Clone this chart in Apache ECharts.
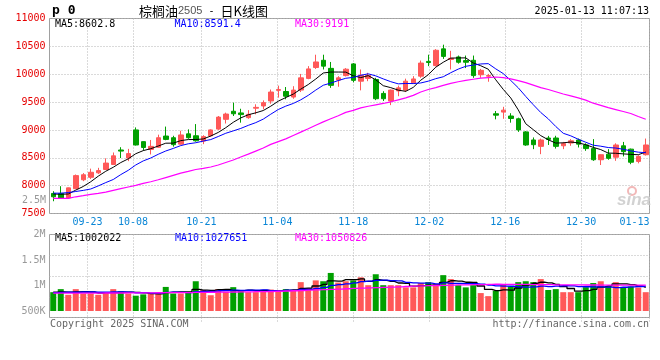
<!DOCTYPE html>
<html><head><meta charset="utf-8">
<script src="https://cdn.jsdelivr.net/npm/echarts@6/dist/echarts.min.js"></script>
<style>html,body{margin:0;padding:0;background:#fff}#c{width:660px;height:360px}</style>
</head><body><div id="c"></div>
<script>
// ---- data ----
const dates = ['09-12','09-13','09-18','09-19','09-20','09-23','09-24','09-25','09-26','09-27',
'09-30','10-08','10-09','10-10','10-11','10-14','10-15','10-16','10-17','10-18',
'10-21','10-22','10-23','10-24','10-25','10-28','10-29','10-30','10-31','11-01',
'11-04','11-05','11-06','11-07','11-08','11-11','11-12','11-13','11-14','11-15',
'11-18','11-19','11-20','11-21','11-22','11-25','11-26','11-27','11-28','11-29',
'12-02','12-03','12-04','12-05','12-06','12-09','12-10','12-11','12-12','12-13',
'12-16','12-17','12-18','12-19','12-20','12-23','12-24','12-25','12-26','12-27',
'12-30','12-31','01-02','01-03','01-06','01-07','01-08','01-09','01-10','01-13'];
const xTickDates = ['09-23','10-08','10-21','11-04','11-18','12-02','12-16','12-30','01-13'];

const open = [7860,7860,7780,7945,8105,8150,8230,8290,8380,8640, 8495,9000,8790,8650,8690,8890,8860,8745,8930,8895,
8800,8895,9015,9190,9335,9305,9220,9390,9430,9520, 9710,9690,9590,9715,9925,10120,10250,10105,9895,9975,
10185,9875,9925,9905,9655,9520,9700,9715,9845,9965, 10230,10155,10455,10265,10310,10245,10250,9990,9965,9290,
9320,9250,9200,8965,8820,8705,8855,8855,8715,8765, 8820,8730,8665,8465,8565,8510,8715,8655,8435,8555];
const close = [7800,7770,7960,8180,8195,8240,8270,8405,8535,8620, 8575,8730,8685,8705,8860,8830,8735,8910,8860,8805,
8880,9000,9230,9285,9290,9275,9280,9405,9490,9680, 9725,9605,9715,9935,10095,10220,10145,9800,9935,10090,
9890,9980,9980,9560,9560,9715,9755,9875,9915,10200, 10210,10430,10320,10285,10215,10215,9975,10070,9975,9265,
9355,9205,9000,8730,8735,8820,8830,8705,8755,8805, 8745,8665,8465,8555,8490,8730,8610,8420,8525,8730];
const low = [7720,7760,7765,7940,8080,8120,8210,8280,8375,8495, 8440,8720,8630,8560,8680,8815,8700,8735,8840,8790,
8745,8880,9000,9115,9250,9130,9200,9280,9370,9470, 9580,9550,9560,9680,9910,10095,10085,9755,9775,9960,
9855,9710,9875,9535,9520,9445,9605,9680,9830,9935, 10145,10140,10275,10085,10190,10110,9935,9935,9865,9190,
9200,9130,8965,8715,8655,8565,8730,8665,8655,8715, 8685,8625,8445,8370,8465,8445,8525,8385,8400,8540];
const high = [7900,7990,7965,8200,8225,8305,8320,8490,8595,8690, 8660,9045,8795,8820,8915,9060,8895,8985,9010,9105,
8905,9010,9250,9310,9490,9380,9355,9460,9530,9725, 9795,9770,9785,10005,10145,10350,10350,10220,9965,10110,
10200,10085,10025,9935,9695,9725,9795,9920,9965,10245, 10350,10450,10530,10420,10335,10335,10335,10095,10005,9340,
9415,9300,9220,8980,8865,8845,8893,8895,8785,8835, 8845,8760,8835,8560,8655,8760,8785,8665,8545,8845];

const ma5 = [7850,7845,7850,7920,7985,8070,8170,8258,8330,8414, 8481,8573,8629,8663,8711,8762,8763,8808,8827,8828,
8838,8891,8955,9040,9137,9216,9272,9307,9348,9426, 9516,9581,9643,9732,9815,9914,10022,10039,10039,10038,
9972,9939,9975,9900,9794,9759,9714,9693,9764,9892, 9991,10126,10215,10289,10292,10293,10202,10152,10090,9900,
9728,9574,9360,9111,9005,8898,8823,8764,8769,8783, 8768,8735,8687,8647,8584,8581,8570,8561,8555,8603];
const ma10 = [7865,7865,7875,7895,7915,7940,7995,8055,8110,8198, 8275,8371,8444,8496,8563,8622,8668,8719,8751,8770,
8800,8827,8882,8940,8983,9027,9082,9131,9194,9282, 9366,9427,9475,9540,9621,9715,9802,9841,9886,9927,
9943,9981,10007,9970,9916,9866,9827,9834,9832,9843, 9875,9920,9954,10027,10092,10142,10164,10184,10190,10096,
10011,9888,9756,9601,9453,9313,9199,9062,8940,8894, 8833,8779,8726,8708,8684,8675,8653,8624,8601,8591];
const ma30 = [7770,7770,7772,7800,7820,7842,7862,7885,7915,7945, 7975,8005,8040,8070,8105,8145,8185,8225,8255,8290,
8310,8335,8370,8415,8460,8515,8565,8620,8675,8740, 8790,8840,8900,8960,9020,9085,9145,9200,9255,9315,
9350,9395,9425,9450,9475,9505,9540,9575,9620,9680, 9725,9760,9800,9835,9865,9890,9910,9930,9940,9950,
9940,9915,9885,9850,9805,9760,9725,9685,9645,9610, 9575,9535,9480,9440,9400,9365,9330,9295,9240,9191];

// volume, in thousands of lots
const volume = [901,966,845,966,873,873,845,901,966,919, 873,826,854,882,882,1013,873,873,901,1134,
947,836,966,910,1008,947,901,901,947,957, 929,966,943,1115,989,1152,1134,1311,1106,1134,
1152,1218,1050,1283,1050,1050,1050,1003,1003,1096, 1115,1069,1264,1180,1050,1003,1050,882,817,929,
1069,1022,1115,1134,1115,1180,947,966,901,901, 901,1008,1096,1134,1031,1115,1010,1020,1000,901];
const volMa5 = [900,905,900,905,910,905,880,892,892,901, 901,897,888,871,863,891,901,905,908,959,
946,938,957,959,933,933,946,933,941,931, 927,940,948,982,988,1033,1067,1140,1138,1167,
1167,1184,1132,1167,1151,1130,1097,1087,1031,1040, 1053,1057,1109,1145,1136,1113,1109,1033,960,936,
949,944,990,1054,1091,1113,1098,1068,1022,979, 923,935,961,1008,1034,1077,1077,1062,1035,1002];
const volMa10 = [890,895,900,900,905,905,900,900,905,906, 903,889,890,881,882,896,899,896,890,911,
919,920,931,934,946,940,942,945,950,932, 930,943,941,961,960,980,1003,1044,1060,1078,
1100,1125,1136,1153,1159,1149,1140,1110,1099,1096, 1092,1077,1098,1088,1088,1083,1083,1071,1053,1036,
1031,1027,1012,1007,1014,1031,1021,1029,1038,1035, 1018,1017,1015,1015,1007,1000,1006,1012,1022,1028];
const volMa30 = [880,880,880,881,881,882,882,883,883,884, 885,886,887,888,889,890,891,892,893,895,
897,899,901,903,905,907,909,911,913,916, 921,926,931,937,943,949,955,961,967,974,
980,986,992,998,1004,1010,1016,1022,1028,1035, 1039,1043,1047,1051,1055,1058,1061,1064,1067,1070,
1069,1068,1067,1066,1064,1062,1060,1058,1056,1055, 1055,1054,1054,1053,1053,1052,1052,1052,1051,1051];

const priceMin = 7500, priceMax = 11000, priceStep = 500;
const volLabelMin = 500, volLabelMax = 2000, volLabelStep = 500;
const volBarMin = 500, volBarMax = 2130;

// ---- styles ----
const MONO = '"DejaVu Sans Mono","Liberation Mono",monospace';
const RED = '#ff5858', GREEN = '#00a000';
const GRIDC = '#b4b4b4', BORDER = '#a0a0a0';
const dotted = {color: GRIDC, type: [1, 2], width: 1};
const isTick = (i, v) => xTickDates.indexOf(v) >= 0;

const chart = echarts.init(document.getElementById('c'), null, {width: 660, height: 360});
const hidden = {show: false};
const gridL = 49.5, gridW = 600;

chart.setOption({
  animation: false,
  backgroundColor: '#fff',
  grid: [
    {left: gridL, top: 18.5, width: gridW, height: 195, show: true, borderColor: BORDER, borderWidth: 1},
    {left: gridL, top: 234.5, width: gridW, height: 83, show: true, borderColor: BORDER, borderWidth: 1},
    {left: gridL, top: 234.5, width: gridW, height: 76.5}
  ],
  xAxis: [
    {gridIndex: 0, type: 'category', data: dates, boundaryGap: true, position: 'top',
     axisLine: hidden, axisTick: hidden, axisLabel: hidden, splitLine: hidden},
    {gridIndex: 0, type: 'category', data: dates, boundaryGap: false, position: 'bottom',
     axisLine: hidden, axisTick: hidden,
     axisLabel: {interval: isTick, color: '#0a86d6', fontFamily: MONO, fontSize: 10, margin: 4, alignMaxLabel: 'right'},
     splitLine: {show: true, interval: isTick, lineStyle: dotted}},
    {gridIndex: 1, type: 'category', data: dates, boundaryGap: false, position: 'bottom',
     axisLine: hidden, axisLabel: hidden,
     axisTick: {show: true, interval: isTick, length: 4, lineStyle: dotted},
     splitLine: {show: true, interval: isTick, lineStyle: dotted}},
    {gridIndex: 2, type: 'category', data: dates, boundaryGap: true, position: 'bottom',
     axisLine: hidden, axisTick: hidden, axisLabel: hidden, splitLine: hidden}
  ],
  yAxis: [
    {gridIndex: 0, type: 'value', min: priceMin, max: priceMax, interval: priceStep, position: 'left',
     axisLine: hidden, axisTick: hidden,
     axisLabel: {color: '#e60000', fontFamily: MONO, fontSize: 10, margin: 4, formatter: v => String(v)},
     splitLine: {show: true, lineStyle: dotted}},
    {gridIndex: 1, type: 'value', min: 0, max: 4, interval: 1, position: 'left',
     axisLine: hidden, axisTick: hidden, axisLabel: hidden,
     splitLine: {show: true, lineStyle: dotted}},
    {gridIndex: 2, type: 'value', min: volBarMin, max: volBarMax, position: 'right', show: false},
    {gridIndex: 2, type: 'value', min: volLabelMin, max: volLabelMax, interval: volLabelStep, position: 'left',
     axisLine: hidden, axisTick: hidden, splitLine: hidden,
     axisLabel: {color: '#999', fontFamily: MONO, fontSize: 10, margin: 4,
       formatter: v => v >= 1000 ? (v / 1000) + 'M' : v + 'K'}}
  ],
  series: [
    {type: 'candlestick', xAxisIndex: 0, yAxisIndex: 0, barWidth: 5,
     data: dates.map((d, i) => [open[i], close[i], low[i], high[i]]),
     itemStyle: {color: RED, color0: GREEN, borderColor: RED, borderColor0: GREEN, borderWidth: 1}},
    {type: 'line', xAxisIndex: 0, yAxisIndex: 0, data: ma5, symbol: 'none', lineStyle: {color: '#000', width: 1}},
    {type: 'line', xAxisIndex: 0, yAxisIndex: 0, data: ma10, symbol: 'none', lineStyle: {color: '#0000ff', width: 1}},
    {type: 'line', xAxisIndex: 0, yAxisIndex: 0, data: ma30, symbol: 'none', lineStyle: {color: '#ff00ff', width: 1.2}},
    {type: 'bar', xAxisIndex: 3, yAxisIndex: 2, barWidth: 6, data: volume,
     itemStyle: {color: p => close[p.dataIndex] >= open[p.dataIndex] ? RED : GREEN}},
    {type: 'line', xAxisIndex: 3, yAxisIndex: 2, data: volMa5, step: 'middle', symbol: 'none', lineStyle: {color: '#000', width: 1.3}},
    {type: 'line', xAxisIndex: 3, yAxisIndex: 2, data: volMa10, step: 'middle', symbol: 'none', lineStyle: {color: '#0000ff', width: 1.3}},
    {type: 'line', xAxisIndex: 3, yAxisIndex: 2, data: volMa30, step: 'middle', symbol: 'none', lineStyle: {color: '#ff00ff', width: 1.3}}
  ],
  graphic: [
    {type: 'text', x: 52, y: 11, style: {text: 'p 0', font: 'bold 13px ' + MONO, fill: '#000', verticalAlign: 'middle'}},
    {type: 'text', x: 139, y: 11, style: {
      text: '{a|棕榈油}{b|2505}{c| - }{a|日K线图}', verticalAlign: 'middle',
      rich: {a: {font: '13px "Noto Sans CJK SC"', fill: '#000'},
             b: {font: '11px "Liberation Sans"', fill: '#555'},
             c: {font: '10px ' + MONO, fill: '#000'}}}},
    {type: 'text', x: 649, y: 11.5, style: {text: '2025-01-13 11:07:13', font: '10px ' + MONO, fill: '#000', align: 'right', verticalAlign: 'middle'}},
    {type: 'text', x: 55, y: 24.5, style: {text: 'MA5:8602.8', font: '10px ' + MONO, fill: '#000', verticalAlign: 'middle'}},
    {type: 'text', x: 174.5, y: 24.5, style: {text: 'MA10:8591.4', font: '10px ' + MONO, fill: '#0000ff', verticalAlign: 'middle'}},
    {type: 'text', x: 295, y: 24.5, style: {text: 'MA30:9191', font: '10px ' + MONO, fill: '#ff00ff', verticalAlign: 'middle'}},
    {type: 'text', x: 55, y: 238.7, style: {text: 'MA5:1002022', font: '10px ' + MONO, fill: '#000', verticalAlign: 'middle'}},
    {type: 'text', x: 175, y: 238.7, style: {text: 'MA10:1027651', font: '10px ' + MONO, fill: '#0000ff', verticalAlign: 'middle'}},
    {type: 'text', x: 295, y: 238.7, style: {text: 'MA30:1050826', font: '10px ' + MONO, fill: '#ff00ff', verticalAlign: 'middle'}},
    {type: 'text', x: 46, y: 200.5, style: {text: '2.5M', font: '10px ' + MONO, fill: '#999', align: 'right', verticalAlign: 'middle'}},
    {type: 'text', x: 50, y: 324, style: {text: 'Copyright 2025 SINA.COM', font: '10px ' + MONO, fill: '#666', verticalAlign: 'middle'}},
    {type: 'text', x: 649, y: 324, style: {text: 'http://finance.sina.com.cn', font: '10px ' + MONO, fill: '#666', align: 'right', verticalAlign: 'middle'}},
    {type: 'circle', shape: {cx: 632, cy: 191, r: 4}, style: {fill: 'none', stroke: '#f2b8b8', lineWidth: 2}},
    {type: 'text', x: 651, y: 200, style: {text: 'sina', font: 'italic bold 17px "Liberation Sans"', fill: '#d2d2d2', align: 'right', verticalAlign: 'middle'}}
  ]
});
</script>
</body></html>
